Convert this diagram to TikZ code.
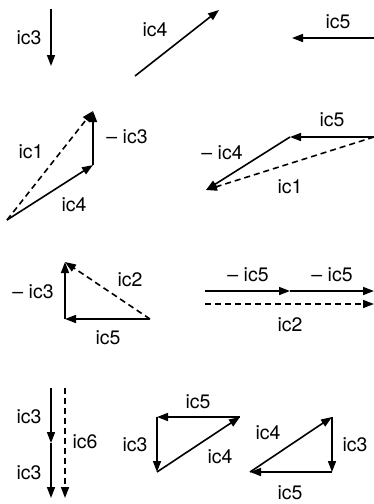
\documentclass[tikz,border=0pt]{standalone}
\usepackage{fontspec}
\setmainfont{TeX Gyre Heros}
\usetikzlibrary{arrows.meta}

\begin{document}
\begin{tikzpicture}[x=1pt, y=-1pt, every node/.style={font=\fontsize{19.5}{22}\selectfont, inner sep=0pt},
  >={Triangle[length=11pt, width=8pt]}, line width=1.6pt,
  vec/.style={->}, dvec/.style={->, dash pattern=on 6pt off 4pt}]
	\useasboundingbox (0,0) rectangle (374,504);
	% single phasors
	\coordinate (a1) at (51,9); \coordinate (a2) at (51,66);
	\draw[vec] (a1) -- (a2);
	\node (la) at (29,38) {ic3};
	\coordinate (b1) at (135,76); \coordinate (b2) at (219,10);
	\draw[vec] (b1) -- (b2);
	\node (lb) at (155,30) {ic4};
	\coordinate (c1) at (374,38); \coordinate (c2) at (292,38);
	\draw[vec] (c1) -- (c2);
	\node (lc) at (338,22) {ic5};
	% ic1 = ic4 - ic3
	\coordinate (d1) at (7,220); \coordinate (d2) at (93,165); \coordinate (d3) at (93,111);
	\draw[vec] (d1) -- (d2);
	\draw[vec] (d2) -- (d3);
	\draw[dvec] (d1) -- (d3);
	\node (ld1) at (31,152) {ic1};
	\node (ld2) at (74,205) {ic4};
	\node (ld3) at (127,137) {– ic3};
	% ic1 = ic5 - ic4
	\coordinate (e1) at (374,137); \coordinate (e2) at (290,137); \coordinate (e3) at (206,190);
	\draw[vec] (e1) -- (e2);
	\draw[vec] (e2) -- (e3);
	\draw[dvec] (e1) -- (e3);
	\node (le1) at (332,120) {ic5};
	\node (le2) at (222,153) {– ic4};
	\node (le3) at (290,187) {ic1};
	% ic2 = ic5 - ic3
	\coordinate (f1) at (150,319); \coordinate (f2) at (65,319); \coordinate (f3) at (65,262);
	\draw[vec] (f1) -- (f2);
	\draw[vec] (f2) -- (f3);
	\draw[dvec] (f1) -- (f3);
	\node (lf1) at (33,292) {– ic3};
	\node (lf2) at (130,280) {ic2};
	\node (lf3) at (108,338) {ic5};
	% ic2 = -2 ic5
	\coordinate (g1) at (205,291); \coordinate (g2) at (290,291); \coordinate (g3) at (374,291);
	\coordinate (g4) at (205,304); \coordinate (g5) at (374,304);
	\draw[vec] (g1) -- (g2);
	\draw[vec] (g2) -- (g3);
	\draw[dvec] (g4) -- (g5);
	\node (lg1) at (248,275) {– ic5};
	\node (lg2) at (332,275) {– ic5};
	\node (lg3) at (290,325) {ic2};
	% ic6 = 2 ic3
	\coordinate (h1) at (51,388); \coordinate (h2) at (51,443); \coordinate (h3) at (51,498);
	\coordinate (h4) at (65,388); \coordinate (h5) at (65,498);
	\draw[vec] (h1) -- (h2);
	\draw[vec] (h2) -- (h3);
	\draw[dvec] (h4) -- (h5);
	\node (lh1) at (29,417) {ic3};
	\node (lh2) at (29,473) {ic3};
	\node (lh3) at (85,442) {ic6};
	% ic4 + ic5 + ic3
	\coordinate (i1) at (157,472); \coordinate (i2) at (240,417); \coordinate (i3) at (157,417);
	\draw[vec] (i1) -- (i2);
	\draw[vec] (i2) -- (i3);
	\draw[vec] (i3) -- (i1);
	\node (li1) at (198,402) {ic5};
	\node (li2) at (135,445) {ic3};
	\node (li3) at (220,457) {ic4};
	% ic4 + ic3 + ic5
	\coordinate (j1) at (250,472); \coordinate (j2) at (332,417); \coordinate (j3) at (332,472);
	\draw[vec] (j1) -- (j2);
	\draw[vec] (j2) -- (j3);
	\draw[vec] (j3) -- (j1);
	\node (lj1) at (268,433) {ic4};
	\node (lj2) at (355,445) {ic3};
	\node (lj3) at (290,493) {ic5};
\end{tikzpicture}
\end{document}
